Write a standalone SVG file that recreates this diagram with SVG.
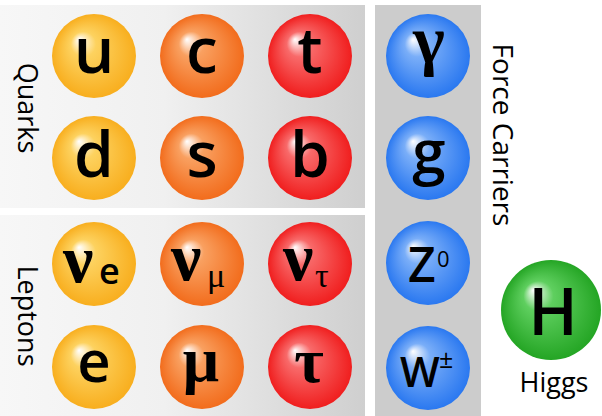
<svg xmlns="http://www.w3.org/2000/svg" width="602" height="416" viewBox="0 0 602 416">
<defs>
<linearGradient id="panel" x1="0" y1="0" x2="1" y2="0">
<stop offset="0" stop-color="#f7f7f7"/>
<stop offset="0.45" stop-color="#f0f0f0"/>
<stop offset="1" stop-color="#cfcfcf"/>
</linearGradient>
<radialGradient id="gy" cx="0.5" cy="0.5" r="0.5" fx="0.32" fy="0.3">
<stop offset="0" stop-color="#ffffff"/><stop offset="0.3" stop-color="#fdd25f"/><stop offset="1" stop-color="#f8ae1e"/>
</radialGradient>
<radialGradient id="go" cx="0.5" cy="0.5" r="0.5" fx="0.32" fy="0.3">
<stop offset="0" stop-color="#ffffff"/><stop offset="0.3" stop-color="#f9a060"/><stop offset="1" stop-color="#f26c1c"/>
</radialGradient>
<radialGradient id="gr" cx="0.5" cy="0.5" r="0.5" fx="0.32" fy="0.3">
<stop offset="0" stop-color="#ffffff"/><stop offset="0.3" stop-color="#f86a6a"/><stop offset="1" stop-color="#f01e1e"/>
</radialGradient>
<radialGradient id="gb" cx="0.5" cy="0.5" r="0.5" fx="0.32" fy="0.3">
<stop offset="0" stop-color="#ffffff"/><stop offset="0.3" stop-color="#7aaef8"/><stop offset="1" stop-color="#2a78f0"/>
</radialGradient>
<radialGradient id="gg" cx="0.5" cy="0.5" r="0.5" fx="0.32" fy="0.3">
<stop offset="0" stop-color="#ffffff"/><stop offset="0.3" stop-color="#5fcf5f"/><stop offset="1" stop-color="#24a524"/>
</radialGradient>
</defs>
<style>
.s{font-family:"Open Sans","DejaVu Sans",sans-serif;font-weight:600;fill:#000}
.g{font-family:"Liberation Serif","DejaVu Serif",serif;font-weight:bold;fill:#000}
.lab{font-family:"Open Sans","DejaVu Sans",sans-serif;font-weight:400;font-size:27px;fill:#000}
.big{font-size:64px}
.m{text-anchor:middle}
</style>
<g id="panels">
<rect x="0" y="5" width="365" height="203" fill="url(#panel)"/>
<rect x="0" y="215" width="365" height="201" fill="url(#panel)"/>
<rect x="375" y="5" width="106" height="411" fill="#cccccc"/>
</g>
<g id="labels">
<text class="lab m" transform="translate(18,108) rotate(90)">Quarks</text>
<text class="lab m" transform="translate(18,316) rotate(90)">Leptons</text>
<text class="lab m" style="font-size:28px" transform="translate(493,135) rotate(90)">Force Carriers</text>
</g>
<g id="up"><circle cx="94" cy="56" r="42" fill="url(#gy)"/><text class="s big m" x="94" y="73">u</text></g>
<g id="charm"><circle cx="202" cy="56" r="42" fill="url(#go)"/><text class="s big m" x="202" y="73">c</text></g>
<g id="top"><circle cx="310" cy="56" r="42" fill="url(#gr)"/><text class="s big m" x="310" y="73">t</text></g>
<g id="down"><circle cx="94" cy="158" r="42" fill="url(#gy)"/><text class="s big m" x="94" y="177">d</text></g>
<g id="strange"><circle cx="202" cy="158" r="42" fill="url(#go)"/><text class="s big m" x="202" y="177">s</text></g>
<g id="bottom"><circle cx="310" cy="158" r="42" fill="url(#gr)"/><text class="s big m" x="310" y="177">b</text></g>
<g id="nu-e"><circle cx="94" cy="264" r="42" fill="url(#gy)"/><text class="g" x="63" y="282" font-size="68">ν</text><text class="s" x="99" y="284" font-size="36">e</text></g>
<g id="nu-mu"><circle cx="202" cy="264" r="42" fill="url(#go)"/><text class="g" x="171" y="280" font-size="68">ν</text><text class="g" x="207" y="287" font-size="34" style="font-weight:normal">μ</text></g>
<g id="nu-tau"><circle cx="310" cy="264" r="42" fill="url(#gr)"/><text class="g" x="283" y="280" font-size="68">ν</text><text class="g" x="315" y="287" font-size="34" style="font-weight:normal">τ</text></g>
<g id="electron"><circle cx="94" cy="367" r="42" fill="url(#gy)"/><text class="s m" x="94" y="382" font-size="58">e</text></g>
<g id="muon"><circle cx="202" cy="367" r="42" fill="url(#go)"/><text class="g m" x="201" y="381" font-size="64">μ</text></g>
<g id="tau"><circle cx="310" cy="367" r="42" fill="url(#gr)"/><text class="g m" x="309" y="382" font-size="64">τ</text></g>
<g id="photon"><circle cx="428" cy="56" r="42" fill="url(#gb)"/><text class="g m" x="429" y="63" font-size="68">γ</text></g>
<g id="gluon"><circle cx="428" cy="158" r="42" fill="url(#gb)"/><text class="s m" x="429" y="173" font-size="60">g</text></g>
<g id="z-boson"><circle cx="428" cy="263" r="42" fill="url(#gb)"/><text class="s" x="408" y="282" font-size="48">Z<tspan x="437" y="267" font-size="22" style="font-weight:400">0</tspan></text></g>
<g id="w-boson"><circle cx="428" cy="368" r="42" fill="url(#gb)"/><text class="s" x="400" y="387" font-size="42">W<tspan x="439" y="368" font-size="25" style="font-weight:400">±</tspan></text></g>
<g id="higgs"><circle cx="551" cy="310" r="50" fill="url(#gg)"/><text class="s m" x="553" y="335" font-size="66">H</text><text class="lab m" x="554" y="392">Higgs</text></g>
</svg>
